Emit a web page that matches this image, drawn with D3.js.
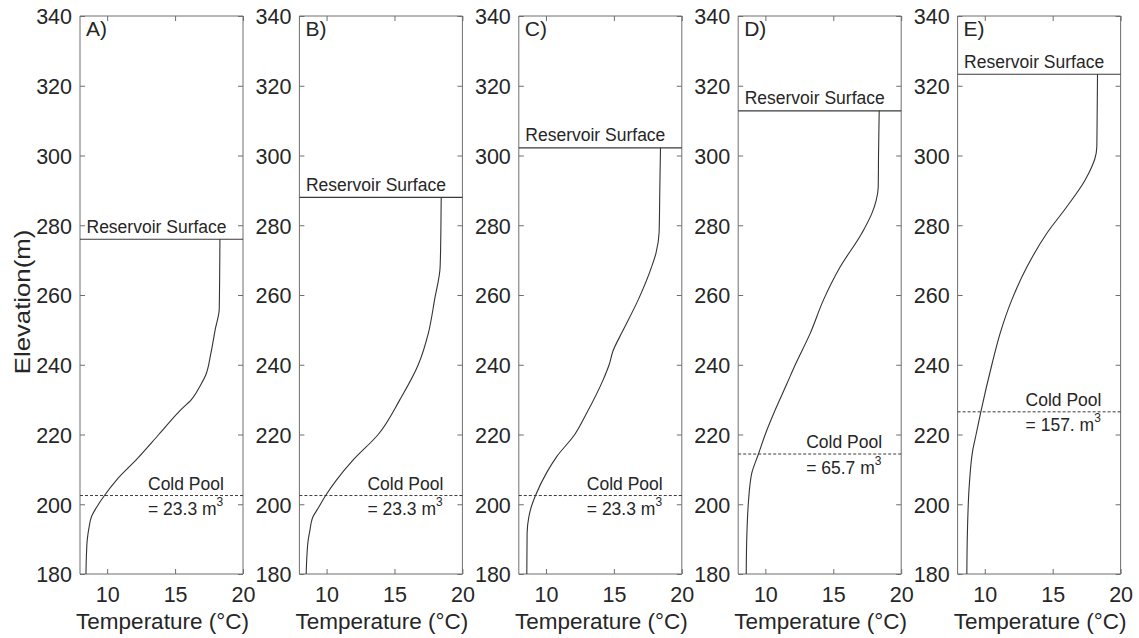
<!DOCTYPE html>
<html>
<head>
<meta charset="utf-8">
<script src="https://cdn.jsdelivr.net/npm/d3@7"></script>
<style>
  html, body { margin: 0; padding: 0; background: #fff; }
  svg { display: block; font-family: "Liberation Sans", Arial, Helvetica, sans-serif; }
</style>
</head>
<body>
<svg id="chart" width="1139" height="638"></svg>
<script>
// Panel letters and reservoir states
const panelNames = ["A)", "B)", "C)", "D)", "E)"];
const surfaceElev = [276, 288, 302.2, 312.8, 323.3];
const coldPoolElev = [202.5, 202.5, 202.5, 214.4, 226.5];
const coldPoolVolume = ["23.3", "23.3", "23.3", "65.7", "157."];

// Temperature profiles (elevation in m, temperature in °C)
const elevA = [276, 265, 256, 250, 243, 237, 234, 230, 227, 220, 213, 207, 202.5, 199, 196.5, 193, 190, 185, 180];
const tempA = [18.30, 18.28, 18.25, 17.95, 17.62, 17.25, 16.85, 16.2, 15.4, 13.8, 12.2, 10.7, 9.8, 9.2, 8.85, 8.65, 8.54, 8.47, 8.44];

const elevB = [288, 280, 268, 258.6, 249, 240, 230, 220, 212.7, 207, 202.5, 199, 196.4, 192, 189.8, 185, 180];
const tempB = [18.44, 18.42, 18.36, 17.95, 17.49, 16.75, 15.4, 13.8, 11.96, 10.74, 9.93, 9.4, 9.0, 8.75, 8.65, 8.55, 8.5];

const elevC = [302.2, 290, 278, 272, 268, 258.6, 249, 244, 240, 235.6, 226, 220, 213.6, 209, 202.5, 199, 196.4, 191.6, 180];
const tempC = [18.43, 18.38, 18.33, 18.1, 17.77, 16.79, 15.56, 14.94, 14.65, 14.2, 12.98, 12.12, 10.78, 10.04, 9.23, 8.9, 8.74, 8.61, 8.59];

const elevD = [312.8, 300, 291, 287, 283.4, 277.7, 268, 258.6, 249, 240, 234.7, 227, 220, 214.4, 208.9, 205, 201, 191.6, 180];
const tempD = [18.38, 18.33, 18.31, 18.15, 17.84, 17.1, 15.5, 14.28, 13.3, 12.2, 11.6, 10.72, 9.99, 9.49, 9.0, 8.85, 8.76, 8.64, 8.59];

const elevE = [323.3, 310, 302.5, 299, 296.8, 293, 285.3, 277.7, 268, 258.6, 249, 240, 226.5, 220, 215.6, 206, 191.6, 180];
const tempE = [18.3, 18.27, 18.25, 18.1, 17.88, 17.39, 16.04, 14.57, 13.1, 11.99, 11.13, 10.52, 9.71, 9.36, 9.12, 8.87, 8.72, 8.68];

const profileElev = [elevA, elevB, elevC, elevD, elevE];
const profileTemp = [tempA, tempB, tempC, tempD, tempE];

// Axis ticks
const xTicks = [10, 15, 20];
const yTicks = [180, 200, 220, 240, 260, 280, 300, 320, 340];

// Layout
const firstLeft = 80, panelStep = 219.4, panelW = 163;
const plotTop = 16, plotBottom = 574;
const tickLen = 5;
const axisColor = "#6e6e6e";
const textColor = "#262626";

const svg = d3.select("#chart");

const y = d3.scaleLinear().domain([180, 340]).range([plotBottom, plotTop]);

panelNames.forEach((name, i) => {
  const left = firstLeft + i * panelStep;
  const x = d3.scaleLinear().domain([8, 20]).range([left, left + panelW]);
  const g = svg.append("g");

  // Left axis with labels (inward ticks)
  const yLeft = g.append("g")
    .attr("transform", `translate(${left},0)`)
    .call(d3.axisLeft(y).tickValues(yTicks).tickSize(-tickLen).tickPadding(8));
  // Right axis, ticks only
  const yRight = g.append("g")
    .attr("transform", `translate(${left + panelW},0)`)
    .call(d3.axisRight(y).tickValues(yTicks).tickSize(-tickLen).tickFormat(""));
  // Bottom axis with labels
  const xBottom = g.append("g")
    .attr("transform", `translate(0,${plotBottom})`)
    .call(d3.axisBottom(x).tickValues(xTicks).tickSize(-tickLen).tickPadding(13));
  // Top axis, ticks only
  const xTop = g.append("g")
    .attr("transform", `translate(0,${plotTop})`)
    .call(d3.axisTop(x).tickValues(xTicks).tickSize(-tickLen).tickFormat(""));

  [yLeft, yRight, xBottom, xTop].forEach(a => {
    a.selectAll(".domain").attr("stroke", axisColor).attr("stroke-width", 1);
    a.selectAll(".tick line").attr("stroke", axisColor).attr("stroke-width", 1);
    a.selectAll(".tick text")
      .attr("fill", textColor)
      .style("font-size", "21.5px")
      .style("font-family", '"Liberation Sans", Arial, sans-serif');
  });
  yLeft.selectAll(".tick text").attr("dy", "0.36em");
  // closed frame without outer tick stubs
  xBottom.select(".domain").attr("d", `M${left},0H${left + panelW}`);
  xTop.select(".domain").attr("d", `M${left},0H${left + panelW}`);
  yLeft.select(".domain").attr("d", `M0,${plotBottom}V${plotTop}`);
  yRight.select(".domain").attr("d", `M0,${plotBottom}V${plotTop}`);

  // X axis title
  g.append("text")
    .attr("x", left + panelW / 2 + 1)
    .attr("y", 629)
    .attr("text-anchor", "middle")
    .attr("fill", textColor)
    .style("font-size", "22.5px")
    .text("Temperature (°C)");

  // Panel letter
  g.append("text")
    .attr("x", left + 6)
    .attr("y", 36)
    .attr("fill", textColor)
    .style("font-size", "21px")
    .text(name);

  // Reservoir surface
  g.append("line")
    .attr("x1", left).attr("x2", left + panelW)
    .attr("y1", y(surfaceElev[i])).attr("y2", y(surfaceElev[i]))
    .attr("stroke", "#3a3a3a").attr("stroke-width", 1.1);
  g.append("text")
    .attr("x", left + 6.5)
    .attr("y", y(surfaceElev[i]) - 6.5)
    .attr("fill", textColor)
    .style("font-size", "17.5px")
    .text("Reservoir Surface");

  // Cold pool boundary
  g.append("line")
    .attr("x1", left).attr("x2", left + panelW)
    .attr("y1", y(coldPoolElev[i])).attr("y2", y(coldPoolElev[i]))
    .attr("stroke", "#3a3a3a").attr("stroke-width", 1)
    .attr("stroke-dasharray", "3,2");
  g.append("text")
    .attr("x", left + 68)
    .attr("y", y(coldPoolElev[i]) - 6)
    .attr("fill", textColor)
    .style("font-size", "17.5px")
    .text("Cold Pool");
  const vol = g.append("text")
    .attr("x", left + 68)
    .attr("y", y(coldPoolElev[i]) + 19.5)
    .attr("fill", textColor)
    .style("font-size", "17.5px");
  vol.append("tspan").text(`= ${coldPoolVolume[i]} m`);
  vol.append("tspan").attr("dy", -9).style("font-size", "12px").text("3");

  // Temperature profile
  const pts = profileElev[i].map((e, k) => [profileTemp[i][k], e]);
  const line = d3.line()
    .x(d => x(d[0]))
    .y(d => y(d[1]))
    .curve(d3.curveMonotoneY);
  g.append("path")
    .datum(pts.slice().sort((a, b) => b[1] - a[1]))
    .attr("d", line)
    .attr("fill", "none")
    .attr("stroke", "#333")
    .attr("stroke-width", 1.1);
});

// Shared y-axis title
svg.append("text")
  .attr("transform", "translate(30,302) rotate(-90) scale(1.17,1)")
  .attr("text-anchor", "middle")
  .attr("fill", textColor)
  .style("font-size", "22px")
  .text("Elevation(m)");
</script>
</body>
</html>
